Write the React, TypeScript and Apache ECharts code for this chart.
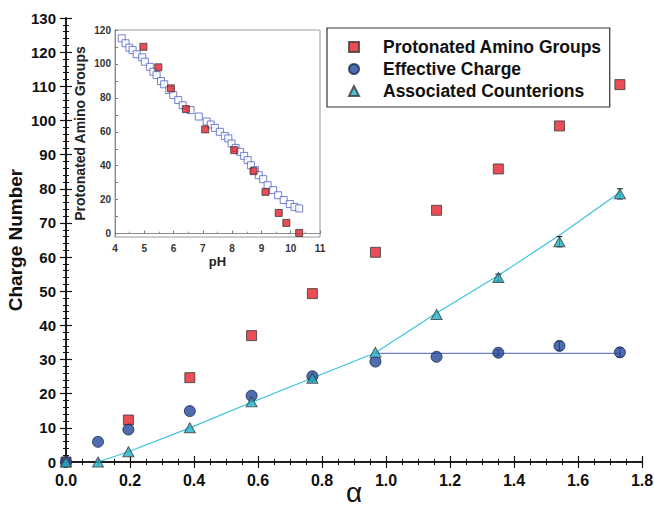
import React, { useEffect, useRef } from "react";
import * as echarts from "echarts";

// ---- Main chart data ----
const alpha = [0, 0.1, 0.195, 0.387, 0.58, 0.77, 0.967, 1.158, 1.351, 1.542, 1.731];
const protonated = [0, null, 12.3, 24.7, 37.0, 49.3, 61.4, 73.7, 85.8, 98.4, 110.5];
const effective = [0, 5.9, 9.5, 14.9, 19.4, 25.1, 29.4, 30.8, 32.0, 34.0, 32.1];
const counterions = [0, 0, 3.0, 10.0, 17.6, 24.5, 32.1, 43.2, 54.0, 64.5, 78.5];
const effectiveErr = [0, 0, 0, 0, 0, 0, 0, 0, 0.8, 1.3, 1.3];
const counterErr = [0, 0, 0, 0, 0, 0, 0, 0, 1.0, 1.5, 1.5];

const fitAlpha = [0.1, 0.195, 0.387, 0.58, 0.77, 0.967, 1.158, 1.351, 1.542, 1.731];
const counterFit = [0, 3.0, 10.0, 17.5, 24.6, 32.0, 43.6, 54.6, 66.4, 79.0];
const plateauAlpha = [0.967, 1.731];
const plateauValue = [31.8, 31.8];

// ---- Inset data ----
const refPH = [4.23, 4.36, 4.49, 4.6, 4.74, 4.93, 5.02, 5.19, 5.31, 5.42, 5.57, 5.68, 5.85, 5.99, 6.16, 6.31, 6.58, 6.86,
  7.13, 7.27, 7.41, 7.58, 7.75, 7.87, 7.98, 8.12, 8.27, 8.41, 8.53, 8.64, 8.78, 8.91, 9.06, 9.21, 9.4, 9.57, 9.76, 9.97, 10.13, 10.29];
const refValue = [115.1, 112.2, 109.6, 108.2, 105.7, 103.9, 101.3, 98.3, 95.4, 93.4, 89.9, 88.0, 84.6, 81.6, 78.7, 75.7, 72.8, 69.0,
  66.1, 64.3, 62.3, 60.0, 57.6, 56.1, 53.1, 50.5, 48.2, 45.8, 43.3, 40.3, 37.4, 34.4, 32.1, 28.5, 25.6, 22.6, 19.8, 17.4, 15.7, 14.8];
const curPH = [4.97, 5.48, 5.91, 6.42, 7.08, 8.07, 8.73, 9.14, 9.59, 9.85, 10.29];
const curValue = [110.1, 98.0, 85.6, 73.4, 61.4, 49.2, 36.8, 24.6, 12.2, 6.3, 0.4];

const insetYLabels = [0, 20, 40, 60, 80, 100, 120];
const insetYTicks = [0, 10, 20, 30, 40, 50, 60, 70, 80, 90, 100, 110, 120];

const FONT = "'Liberation Sans', Arial, Helvetica, sans-serif";
const RED = "#e5202a";
const BLUE = "#22479a";
const CYAN = "#1fb0c8";
const EDGE = "#3a3a3a";

const zip = (a: number[], b: (number | null)[]) => a.map((v, i) => [v, b[i]]);

export default function App() {
  const ref = useRef<HTMLDivElement>(null);
  useEffect(() => {
    if (!ref.current) return;
    const chart = echarts.init(ref.current, undefined, { renderer: "svg" });

    const errorRender = (params: any, api: any) => {
      const x = api.value(0);
      const y = api.value(1);
      const e = api.value(2);
      const lo = api.coord([x, y - e]);
      const hi = api.coord([x, y + e]);
      const w = 3;
      const style = { stroke: "#222", lineWidth: 1 };
      return {
        type: "group",
        children: [
          { type: "line", shape: { x1: lo[0], y1: lo[1], x2: hi[0], y2: hi[1] }, style },
          { type: "line", shape: { x1: lo[0] - w, y1: lo[1], x2: lo[0] + w, y2: lo[1] }, style },
          { type: "line", shape: { x1: hi[0] - w, y1: hi[1], x2: hi[0] + w, y2: hi[1] }, style },
        ],
      };
    };

    const errData = [
      ...alpha.map((a, i) => [a, effective[i], effectiveErr[i]]),
      ...alpha.map((a, i) => [a, counterions[i], counterErr[i]]),
    ].filter((d) => d[2] > 0);

    const mainAxisLine = { show: true, lineStyle: { color: "#111", width: 1.5 } };
    const mainTick = { show: true, inside: true, length: 6, lineStyle: { color: "#111", width: 1.2 } };
    const mainMinor = (n: number) => ({ show: true, splitNumber: n, length: 3, lineStyle: { color: "#111", width: 1 } });

    chart.setOption({
      animation: false,
      backgroundColor: "#ffffff",
      textStyle: { fontFamily: FONT },
      grid: [
        { left: 66, right: 12, top: 18, bottom: 46, containLabel: false, outerBoundsMode: "none" },
        {
          left: 115, top: 30, width: 205, height: 207, outerBoundsMode: "none",
          show: true, backgroundColor: "#ffffff", borderColor: "#9a9a9a", borderWidth: 1, z: 3,
        },
      ],
      xAxis: [
        {
          type: "value", gridIndex: 0, min: 0, max: 1.8, interval: 0.2, position: "bottom",
          axisLine: mainAxisLine, axisTick: mainTick, minorTick: mainMinor(4), splitLine: { show: false },
          axisLabel: { fontSize: 16, fontWeight: "bold", color: "#111", margin: 10, formatter: (v: number) => v.toFixed(1) },
          name: "α", nameLocation: "middle", nameGap: 16, nameMoveOverlap: false,
          nameTextStyle: { fontSize: 28, color: "#111", fontFamily: FONT },
        },
        {
          type: "value", gridIndex: 0, min: 0, max: 1.8, interval: 0.2, position: "top",
          axisLine: mainAxisLine, axisTick: mainTick, minorTick: mainMinor(4), splitLine: { show: false },
          axisLabel: { show: false },
        },
        {
          type: "value", gridIndex: 1, min: 4, max: 11, interval: 1, position: "bottom", z: 4,
          axisLine: { show: true, lineStyle: { color: "#8a8a8a", width: 1 } },
          axisTick: { show: true, inside: true, length: 3, lineStyle: { color: "#777" } },
          minorTick: { show: true, splitNumber: 2, length: 2, lineStyle: { color: "#999" } },
          splitLine: { show: false },
          axisLabel: { fontSize: 10, fontWeight: "bold", color: "#333", margin: 6 },
          name: "pH", nameLocation: "middle", nameGap: 18, nameMoveOverlap: false,
          nameTextStyle: { fontSize: 13, fontWeight: "bold", color: "#222" },
        },
      ],
      yAxis: [
        {
          type: "value", gridIndex: 0, min: 0, max: 130, interval: 10, position: "left",
          axisLine: mainAxisLine, axisTick: mainTick, minorTick: mainMinor(5), splitLine: { show: false },
          axisLabel: { fontSize: 15, fontWeight: "bold", color: "#111", margin: 10 },
          name: "Charge Number", nameLocation: "middle", nameGap: 41, nameRotate: 90, nameMoveOverlap: false,
          nameTextStyle: { fontSize: 19, fontWeight: "bold", color: "#111" },
        },
        {
          type: "value", gridIndex: 0, min: 0, max: 130, interval: 10, position: "right",
          axisLine: mainAxisLine, axisTick: mainTick, minorTick: mainMinor(5), splitLine: { show: false },
          axisLabel: { show: false },
        },
        {
          type: "value", gridIndex: 1, min: -2, max: 120, position: "left", z: 4,
          axisLine: { show: true, lineStyle: { color: "#8a8a8a", width: 1 } },
          axisTick: { show: true, inside: true, length: 3, customValues: insetYTicks, lineStyle: { color: "#777" } },
          splitLine: { show: false },
          axisLabel: { fontSize: 10, fontWeight: "bold", color: "#333", margin: 4, customValues: insetYLabels },
          name: "Protonated Amino Groups", nameLocation: "middle", nameGap: 28, nameRotate: 90, nameMoveOverlap: false,
          nameTextStyle: { fontSize: 14, fontWeight: "bold", color: "#222" },
        },
      ],
      legend: {
        orient: "vertical", left: 327, top: 28, width: 285,
        data: ["Protonated Amino Groups", "Effective Charge", "Associated Counterions"],
        backgroundColor: "#ffffff", borderColor: "#333", borderWidth: 1.2,
        padding: [10, 8, 7, 21], itemGap: 4, itemWidth: 10, itemHeight: 10,
        textStyle: { fontSize: 17.5, fontWeight: "bold", color: "#111", fontFamily: FONT, padding: [0, 0, 0, 19] },
        selectedMode: false, z: 5,
      },
      graphic: [
        {
          type: "group", z: 10,
          children: [
            { type: "rect", shape: { x: 127.5, y: 182.5, width: 7, height: 7 }, style: { fill: "#fff", stroke: "#5063c4", lineWidth: 1 } },
            { type: "text", x: 153, y: 180, style: { text: "Transcribed from\nreference 60", fontSize: 12, lineHeight: 14, fill: "#222", fontFamily: FONT } },
            { type: "rect", shape: { x: 127.5, y: 211.5, width: 7, height: 7 }, style: { fill: RED, stroke: EDGE, lineWidth: 1 } },
            { type: "text", x: 153, y: 209, style: { text: "Current report", fontSize: 12, fill: "#222", fontFamily: FONT } },
          ],
        },
      ],
      series: [
        {
          type: "line", xAxisIndex: 0, yAxisIndex: 0, data: zip(fitAlpha, counterFit),
          showSymbol: false, symbol: "none", lineStyle: { color: "#3cc3df", width: 1.2 }, z: 1, silent: true,
        },
        {
          type: "line", xAxisIndex: 0, yAxisIndex: 0, data: zip(plateauAlpha, plateauValue),
          showSymbol: false, symbol: "none", lineStyle: { color: "#6f7fc4", width: 1.2 }, z: 1, silent: true,
        },
        {
          type: "custom", xAxisIndex: 0, yAxisIndex: 0, data: errData, renderItem: errorRender, z: 2, silent: true,
        },
        {
          name: "Protonated Amino Groups", type: "scatter", xAxisIndex: 0, yAxisIndex: 0,
          data: zip(alpha, protonated).filter((d) => d[1] !== null), symbol: "rect", symbolSize: 10,
          itemStyle: { color: RED, borderColor: EDGE, borderWidth: 1 }, z: 3,
        },
        {
          name: "Effective Charge", type: "scatter", xAxisIndex: 0, yAxisIndex: 0,
          data: zip(alpha, effective), symbol: "circle", symbolSize: 11,
          itemStyle: { color: BLUE, borderColor: "#1a2a55", borderWidth: 1 }, z: 4,
        },
        {
          name: "Associated Counterions", type: "scatter", xAxisIndex: 0, yAxisIndex: 0,
          data: zip(alpha, counterions), symbol: "triangle", symbolSize: [11, 10],
          itemStyle: { color: CYAN, borderColor: EDGE, borderWidth: 1 }, z: 5,
        },
        {
          name: "Transcribed from reference 60", type: "scatter", xAxisIndex: 2, yAxisIndex: 2,
          data: zip(refPH, refValue), symbol: "rect", symbolSize: 7,
          itemStyle: { color: "#ffffff", borderColor: "#5063c4", borderWidth: 1 }, z: 6,
        },
        {
          name: "Current report", type: "scatter", xAxisIndex: 2, yAxisIndex: 2,
          data: zip(curPH, curValue), symbol: "rect", symbolSize: 7,
          itemStyle: { color: RED, borderColor: EDGE, borderWidth: 1 }, z: 7,
        },
      ],
    });
    return () => chart.dispose();
  }, []);

  return <div ref={ref} style={{ position: "absolute", left: 0, top: 0, width: 654, height: 508 }} />;
}
